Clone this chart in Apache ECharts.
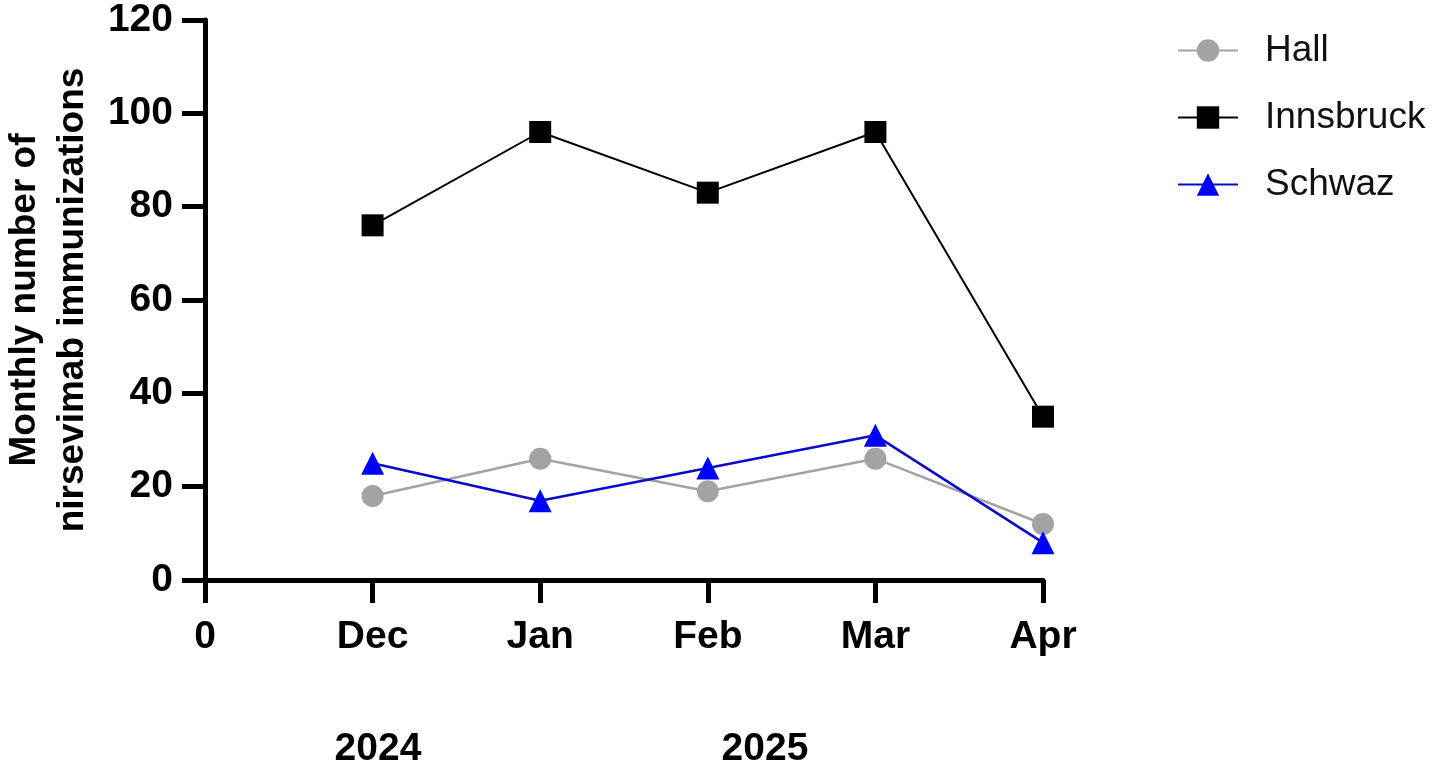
<!DOCTYPE html>
<html>
<head>
<meta charset="utf-8">
<script src="https://cdn.jsdelivr.net/npm/echarts@6/dist/echarts.min.js"></script>
<style>
    html, body { margin: 0; padding: 0; background: #fff; }
    #myChart { width: 1441px; height: 775px; }
</style>
</head>
<body>
<div id="myChart"></div>
<script>
    // x positions: 0 = origin, 1..5 = months
    const tickLabels = ['0', 'Dec', 'Jan', 'Feb', 'Mar', 'Apr'];
    const monthPos = [1, 2, 3, 4, 5];
    const hall = [18, 26, 19, 26, 12];
    const innsbruck = [76, 96, 83, 96, 35];
    const schwaz = [25, 17, 24, 31, 8];

    const font = 'Liberation Sans, Arial, sans-serif';
    const pairs = arr => monthPos.map((x, i) => [x, arr[i]]);

    let myChart = echarts.init(document.getElementById('myChart'));
    let option = {
        backgroundColor: '#fff',
        animation: false,
        grid: {
            left: 205,
            right: 398,
            top: 20,
            bottom: 195,
            outerBoundsMode: 'none',
            containLabel: false
        },
        legend: {
            orient: 'vertical',
            left: 1172,
            top: 27,
            itemWidth: 60,
            itemHeight: 28,
            itemGap: 30,
            textStyle: {
                fontFamily: font,
                fontSize: 37,
                color: '#111',
                padding: [0, 0, 0, 22]
            },
            data: ['Hall', 'Innsbruck', 'Schwaz']
        },
        xAxis: {
            type: 'value',
            min: 0,
            max: 5,
            interval: 1,
            splitLine: { show: false },
            axisLine: { lineStyle: { color: '#000', width: 5 } },
            axisTick: { length: 23, lineStyle: { color: '#000', width: 5 } },
            axisLabel: {
                margin: 38,
                fontFamily: font,
                fontSize: 39,
                fontWeight: 'bold',
                color: '#000',
                formatter: v => tickLabels[v]
            }
        },
        yAxis: {
            type: 'value',
            min: 0,
            max: 120,
            interval: 20,
            splitLine: { show: false },
            axisLine: { show: true, lineStyle: { color: '#000', width: 5 } },
            axisTick: { show: true, length: 23, lineStyle: { color: '#000', width: 5 } },
            axisLabel: {
                margin: 32,
                fontFamily: font,
                fontSize: 39,
                fontWeight: 'bold',
                color: '#000'
            },
            name: 'Monthly number of\nnirsevimab immunizations',
            nameLocation: 'middle',
            nameGap: 98,
            nameTextStyle: {
                fontFamily: font,
                fontSize: 37,
                fontWeight: 'bold',
                color: '#000',
                lineHeight: 48
            }
        },
        graphic: [
            { type: 'text', x: 378, y: 749, style: { text: '2024', font: 'bold 39px ' + font, fill: '#000', align: 'center', verticalAlign: 'middle' } },
            { type: 'text', x: 765, y: 749, style: { text: '2025', font: 'bold 39px ' + font, fill: '#000', align: 'center', verticalAlign: 'middle' } }
        ],
        series: [{
            name: 'Hall',
            type: 'line',
            data: pairs(hall),
            symbol: 'circle',
            symbolSize: 22,
            z: 2,
            itemStyle: { color: '#a3a3a6' },
            lineStyle: { color: '#a3a3a6', width: 2.5 }
        }, {
            name: 'Innsbruck',
            type: 'line',
            data: pairs(innsbruck),
            symbol: 'rect',
            symbolSize: 22,
            z: 3,
            itemStyle: { color: '#000' },
            lineStyle: { color: '#000', width: 2 }
        }, {
            name: 'Schwaz',
            type: 'line',
            data: pairs(schwaz),
            symbol: 'triangle',
            symbolSize: 23,
            z: 4,
            itemStyle: { color: '#0000ff' },
            lineStyle: { color: '#0a0acc', width: 2.5 }
        }]
    };
    myChart.setOption(option);
</script>
</body>
</html>
